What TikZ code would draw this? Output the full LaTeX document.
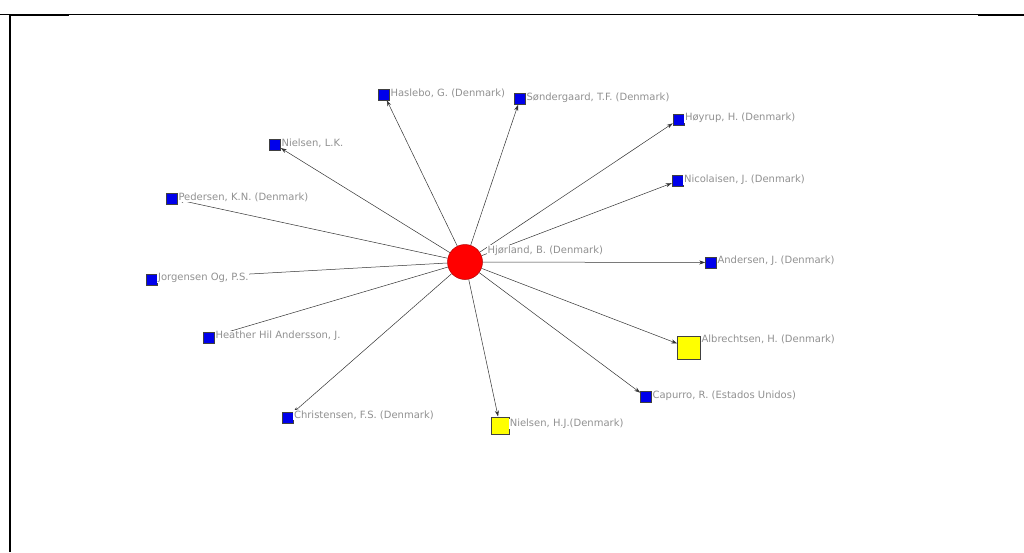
\documentclass[tikz,border=0pt]{standalone}
\usepackage{fontspec}
\setmainfont{DejaVu Sans}
\usetikzlibrary{positioning,arrows.meta,backgrounds}

\definecolor{authorblue}{RGB}{0,0,235}
\definecolor{authoryellow}{RGB}{255,255,0}
\definecolor{egored}{RGB}{255,0,0}
\definecolor{labelgray}{RGB}{145,145,145}

\tikzset{
  author/.style={rectangle, draw=black!75, fill=authorblue, line width=0.5pt,
    inner sep=0pt, minimum size=11pt},
  coauthor/.style={author, fill=authoryellow},
  ego/.style={circle, draw=red!70!black, fill=egored, line width=0.5pt,
    inner sep=0pt, minimum size=35pt},
  lbl/.style={text=labelgray, font=\fontsize{10}{12}\selectfont, fill=white,
    inner sep=0.6pt, yshift=1.5pt},
  tie/.style={draw=black!80, line width=0.5pt, -{Stealth[length=6pt,width=4pt]}},
}

\begin{document}
\begin{tikzpicture}[x=1pt, y=-1pt]
\useasboundingbox (0,0) rectangle (1024,552);

% frame
\draw[line width=1pt] (0,14.5) -- (1024,14.5);
\draw[line width=2pt] (10,552) -- (10,15) -- (69,15);
\draw[line width=2pt] (978,15) -- (1024,15);

% centre
\node[ego, label={[lbl, xshift=4pt, yshift=10pt]right:{Hjørland, B. (Denmark)}}] (hjor) at (465,262) {};

% authors
\node[author, label={[lbl]right:{Haslebo, G. (Denmark)}}] (hasl) at (384,94.5) {};
\node[author, label={[lbl]right:{Søndergaard, T.F. (Denmark)}}] (sond) at (520,99) {};
\node[author, label={[lbl]right:{Høyrup, H. (Denmark)}}] (hoyr) at (678.5,119.5) {};
\node[author, label={[lbl]right:{Nicolaisen, J. (Denmark)}}] (nico) at (677.5,181) {};
\node[author, label={[lbl]right:{Andersen, J. (Denmark)}}] (ande) at (711,262.5) {};
\node[coauthor, minimum size=23pt, label={[lbl, yshift=7pt]right:{Albrechtsen, H. (Denmark)}}] (albr) at (689,348) {};
\node[author, label={[lbl]right:{Capurro, R. (Estados Unidos)}}] (capu) at (646,397) {};
\node[coauthor, minimum size=17.5pt, label={[lbl]right:{Nielsen, H.J.(Denmark)}}] (nihj) at (500,425.5) {};
\node[author, label={[lbl, yshift=1pt]right:{Christensen, F.S. (Denmark)}}] (chri) at (287.5,417.5) {};
\node[author, label={[lbl]right:{Heather Hil Andersson, J.}}] (heat) at (209,337.5) {};
\node[author, label={[lbl]right:{Jorgensen Og, P.S.}}] (jorg) at (151.5,279.5) {};
\node[author, label={[lbl]right:{Pedersen, K.N. (Denmark)}}] (pede) at (172,198.5) {};
\node[author, label={[lbl]right:{Nielsen, L.K.}}] (nilk) at (275,144.5) {};

% ties
\begin{scope}[on background layer]
\foreach \n in {hasl,sond,hoyr,nico,ande,albr,capu,nihj,chri,heat,jorg,pede,nilk}
  \draw[tie] (hjor) -- (\n);
\end{scope}

\end{tikzpicture}
\end{document}
